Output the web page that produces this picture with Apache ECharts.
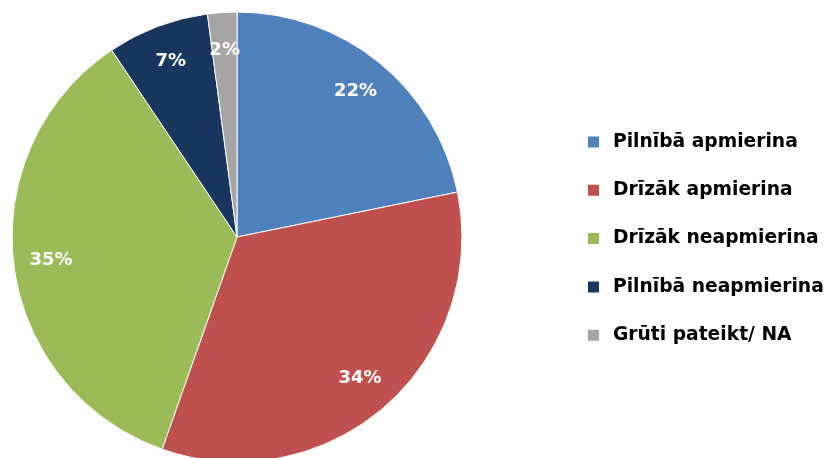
<!DOCTYPE html>
<html><head><meta charset="utf-8">
<script src="https://cdn.jsdelivr.net/npm/echarts@6/dist/echarts.min.js"></script>
<style>html,body{margin:0;padding:0;background:#fff}#c{width:840px;height:458px}</style>
</head><body><div id="c"></div>
<script>
var categories = ['Pilnībā apmierina','Drīzāk apmierina','Drīzāk neapmierina','Pilnībā neapmierina','Grūti pateikt/ NA'];
var values = [21.8, 33.6, 35.2, 7.3, 2.1];
var colors = ['#4F81BD','#C0504D','#9BBB59','#17375E','#A5A5A5'];
var font = 'DejaVu Sans';
var data = categories.map(function(n,i){return {name:n, value:values[i], itemStyle:{color:colors[i]}};});
var chart = echarts.init(document.getElementById('c'), null, {renderer:'canvas'});
chart.setOption({
  animation:false,
  legend:{orient:'vertical', left:581, top:127, itemWidth:13, itemHeight:13, itemGap:28.3, icon:'rect',
    textStyle:{fontFamily:font, fontWeight:'bold', fontSize:18.7, color:'#000', lineHeight:20, padding:[0,0,0,8]},
    data:categories},
  series:[
    {type:'pie', center:[237,237], radius:[0,225], startAngle:90, clockwise:true, data:data,
     itemStyle:{borderColor:'#fff', borderWidth:1}, label:{show:false}, labelLine:{show:false}, emphasis:{disabled:true}},
    {type:'pie', center:[237,237], radius:[144,225], startAngle:90, clockwise:true, silent:true,
     data:categories.map(function(n,i){return {name:n, value:values[i], itemStyle:{color:'rgba(0,0,0,0)'}};}),
     label:{show:true, position:'inside', formatter:function(p){return Math.round(p.value)+'%';}, color:'#fff', fontFamily:font, fontWeight:'bold', fontSize:18},
     labelLine:{show:false}, emphasis:{disabled:true}}
  ]
});
</script></body></html>
